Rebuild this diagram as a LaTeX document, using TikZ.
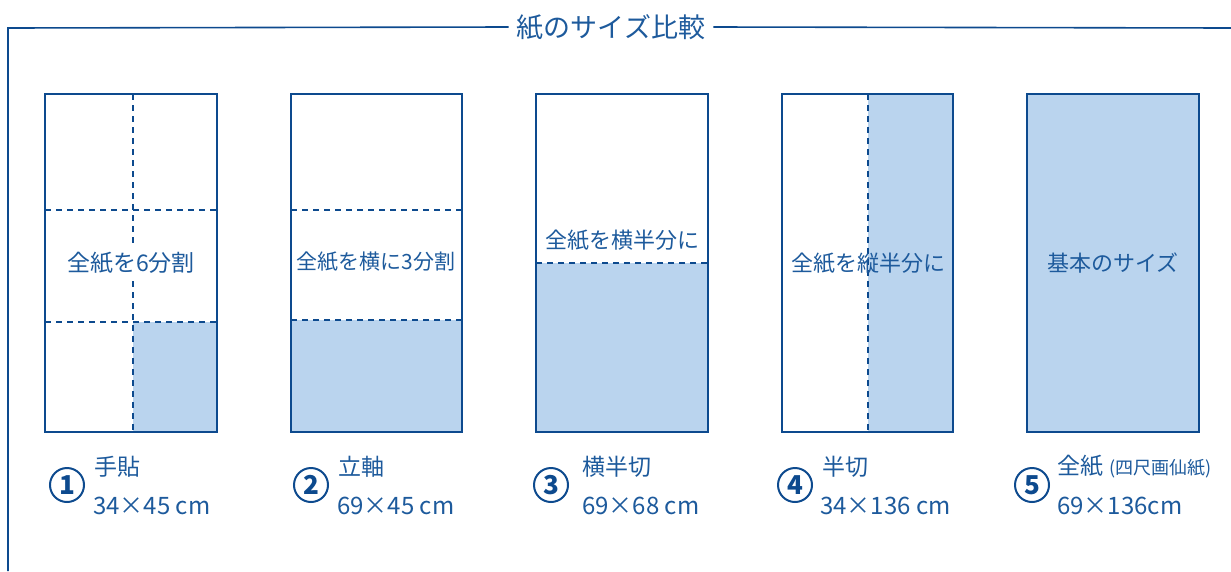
\documentclass[tikz,border=0pt]{standalone}
\usepackage{fontspec}
\setmainfont{Noto Sans CJK JP}
\definecolor{kon}{HTML}{0D4A8E}
\definecolor{moji}{HTML}{1D5A9C}
\definecolor{mizu}{HTML}{BAD4EE}
\tikzset{
  waku/.style={draw=kon, line width=1.6pt},
  kami/.style={draw=kon, line width=2.6pt},
  oru/.style={draw=kon, line width=1.3pt, dash pattern=on 6pt off 5pt},
  naka/.style={text=moji, font=\fontsize{22}{25}\selectfont, inner sep=0pt},
  bango/.style={circle, draw=kon, line width=2pt, minimum size=34pt, inner sep=0pt,
    text=kon, font=\fontsize{26}{28}\selectfont\bfseries},
  namae/.style={text=moji, anchor=west, inner sep=0pt, font=\fontsize{23}{26}\selectfont},
  sunpo/.style={text=moji, anchor=west, inner sep=0pt, font=\fontsize{24}{27}\selectfont}
}
\begin{document}
\begin{tikzpicture}[x=1pt, y=-1pt]
  \useasboundingbox (0,0) rectangle (1231,571);

  % Titolo e cornice
  \node[text=moji, font=\fontsize{27}{30}\selectfont, inner xsep=8pt] (titolo) at (611,27) {紙のサイズ比較};
  \draw[waku] (titolo.west) -- (8,28) -- (8,571);
  \draw[waku] (titolo.east) -- (1231,28);

  % Fogli
  \fill[mizu] (133,322) rectangle (217,432);
  \draw[oru] (133,94) -- (133,432);
  \draw[oru] (45,210) -- (217,210);
  \draw[oru] (45,322) -- (217,322);
  \draw[kami] (45,94) rectangle (217,432);
  \node[naka, fill=white, inner xsep=1pt, inner ysep=7pt, font=\fontsize{23}{26}\selectfont] (testo1) at (131,263) {全紙を6分割};

  \fill[mizu] (291,320) rectangle (462,432);
  \draw[oru] (291,210) -- (462,210);
  \draw[oru] (291,320) -- (462,320);
  \draw[kami] (291,94) rectangle (462,432);
  \node[naka, font=\fontsize{21}{24}\selectfont] (testo2) at (376,262) {全紙を横に3分割};

  \fill[mizu] (536,263) rectangle (708,432);
  \draw[oru] (536,263) -- (708,263);
  \draw[kami] (536,94) rectangle (708,432);
  \node[naka] (testo3) at (622,240) {全紙を横半分に};

  \fill[mizu] (868,94) rectangle (953,432);
  \draw[oru] (868,94) -- (868,432);
  \draw[kami] (782,94) rectangle (953,432);
  \node[naka] (testo4) at (868,263) {全紙を縦半分に};

  \fill[mizu] (1027,94) rectangle (1199,432);
  \draw[kami] (1027,94) rectangle (1199,432);
  \node[naka] (testo5) at (1113,263) {基本のサイズ};

  % Didascalie
  \node[bango] (n1) at (67,485) {1};
  \node[namae] (nome1) at (94,467) {手貼};
  \node[sunpo] (misura1) at (93,506) {34×45 cm};

  \node[bango] (n2) at (311,485) {2};
  \node[namae] (nome2) at (338,467) {立軸};
  \node[sunpo] (misura2) at (337,506) {69×45 cm};

  \node[bango] (n3) at (551,485) {3};
  \node[namae] (nome3) at (582,467) {横半切};
  \node[sunpo] (misura3) at (582,506) {69×68 cm};

  \node[bango] (n4) at (795,485) {4};
  \node[namae] (nome4) at (822,467) {半切};
  \node[sunpo] (misura4) at (820,506) {34×136 cm};

  \node[bango] (n5) at (1032,485) {5};
  \node[namae] (nome5) at (1057,467) {全紙\hspace{6pt}{\fontsize{18}{20}\selectfont (四尺画仙紙)}};
  \node[sunpo] (misura5) at (1057,506) {69×136cm};
\end{tikzpicture}
\end{document}
